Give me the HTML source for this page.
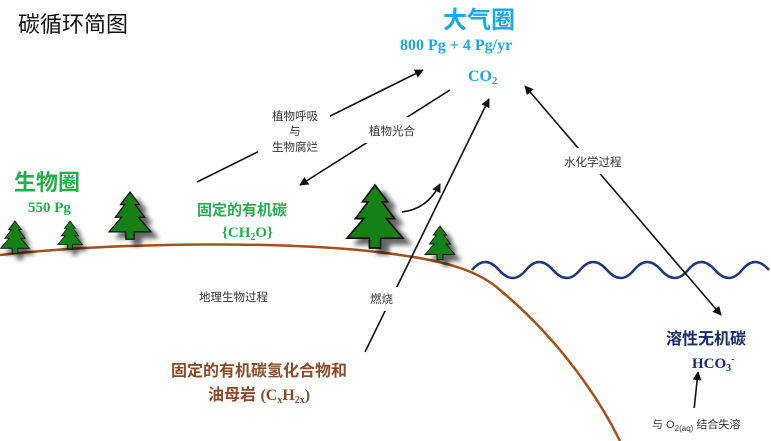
<!DOCTYPE html>
<html><head><meta charset="utf-8"><style>
html,body{margin:0;padding:0;background:#fff}
svg{display:block}
text{font-family:"Liberation Sans","Noto Sans CJK SC",sans-serif}
.serif{font-family:"Liberation Serif","Noto Serif CJK SC",serif;font-weight:bold}
</style></head><body>
<svg width="771" height="441" viewBox="0 0 771 441" xmlns="http://www.w3.org/2000/svg">
<defs>
<marker id="ah" viewBox="0 0 10 10" refX="9" refY="5" markerWidth="9" markerHeight="9" orient="auto-start-reverse" markerUnits="userSpaceOnUse"><path d="M0,0 L10,5 L0,10 z" fill="#111"/></marker>
<g id="tree"><polygon points="0,0 9,12 5,12 14,24 8,24 20,38 4,38 4,45 -4,45 -4,38 -20,38 -8,24 -14,24 -5,12 -9,12" fill="#158015" stroke="#111" stroke-width="1.2"/></g>
<filter id="sh" x="-50%" y="-50%" width="200%" height="200%">
<feFlood flood-color="#000" result="f"/>
<feComposite in="f" in2="SourceAlpha" operator="in" result="s"/>
<feGaussianBlur in="s" stdDeviation="2.5"/>
</filter>
</defs>
<rect width="771" height="441" fill="#fff"/>
<text x="18" y="32" font-size="22" fill="#111">碳循环简图</text>
<text x="443" y="28" font-size="24" font-weight="bold" fill="#1aa8e6">大气圈</text>
<text x="400" y="50" font-size="16" class="serif" fill="#1aa8e6">800 Pg + 4 Pg/yr</text>
<text x="468" y="81" font-size="16" class="serif" fill="#1aa8e6">CO<tspan font-size="11" dy="3">2</tspan></text>

<path d="M0,255 C120,242 300,240 400,255 C450,262 480,272 500,290 C560,340 600,400 620,441" fill="none" stroke="#a0521c" stroke-width="2.5"/>
<path d="M472,270 q13,-16 27,0 t27,0 t27,0 t27,0 t27,0 t27,0 t27,0 t27,0 t27,0 t27,0 t27,0" fill="none" stroke="#1f3778" stroke-width="2.5"/>

<g opacity="0.6" filter="url(#sh)">
<use href="#tree" transform="translate(20,227) scale(0.72)"/>
<use href="#tree" transform="translate(75,227) scale(0.62)"/>
<use href="#tree" transform="translate(137,198) scale(1.05)"/>
<use href="#tree" transform="translate(383,191) scale(1.4)"/>
<use href="#tree" transform="translate(446,232) scale(0.75)"/>
</g>
<use href="#tree" transform="translate(15,221) scale(0.72)"/>
<use href="#tree" transform="translate(70,221) scale(0.62)"/>
<use href="#tree" transform="translate(130,192) scale(1.05)"/>
<use href="#tree" transform="translate(375,185) scale(1.4)"/>
<use href="#tree" transform="translate(440,226) scale(0.75)"/>

<g stroke="#111" stroke-width="1.6" fill="none">
<line x1="197" y1="182" x2="423" y2="70" marker-end="url(#ah)"/>
<line x1="450" y1="90" x2="300" y2="185" marker-end="url(#ah)"/>
<line x1="365" y1="352" x2="489" y2="99" marker-end="url(#ah)"/>
<path d="M402,212 C420,210 432,200 440,184" marker-end="url(#ah)"/>
<line x1="525" y1="86" x2="721" y2="315" marker-start="url(#ah)" marker-end="url(#ah)"/>
<line x1="694" y1="410" x2="698" y2="372" marker-end="url(#ah)"/>
</g>

<g fill="#fff">
<rect x="258" y="104" width="72" height="52"/>
<rect x="358" y="117" width="64" height="26"/>
<rect x="548" y="148" width="80" height="26"/>
<rect x="188" y="285" width="100" height="30"/>
<rect x="363" y="287" width="40" height="24"/>
<rect x="640" y="408" width="115" height="33"/>
</g>
<g font-size="11.5" fill="#333">
<text x="295" y="120" text-anchor="middle">植物呼吸</text>
<text x="295" y="135" text-anchor="middle">与</text>
<text x="295" y="151" text-anchor="middle">生物腐烂</text>
<text x="369" y="135">植物光合</text>
<text x="564" y="166">水化学过程</text>
<text x="199" y="301">地理生物过程</text>
<text x="370" y="303">燃烧</text>
<text x="652" y="428" font-size="11">与 O<tspan font-size="8" dy="3">2(aq)</tspan><tspan dy="-3"> 结合失溶</tspan></text>
</g>

<text x="14" y="190" font-size="22" font-weight="bold" fill="#22b04a">生物圈</text>
<text x="28" y="212" font-size="15" class="serif" fill="#22b04a">550 Pg</text>
<text x="197" y="215" font-size="15" font-weight="bold" fill="#22b04a">固定的有机碳</text>
<text x="222" y="237" font-size="15" class="serif" fill="#22b04a">{CH<tspan font-size="10" dy="3">2</tspan><tspan dy="-3">O}</tspan></text>

<text x="171" y="376" font-size="16" font-weight="bold" fill="#8a4a2a">固定的有机碳氢化合物和</text>
<text x="208" y="400" font-size="16" font-weight="bold" fill="#8a4a2a">油母岩 <tspan class="serif">(C</tspan><tspan class="serif" font-size="10" dy="3">x</tspan><tspan class="serif" dy="-3">H</tspan><tspan class="serif" font-size="10" dy="3">2x</tspan><tspan class="serif" dy="-3">)</tspan></text>

<text x="666" y="344" font-size="16" font-weight="bold" fill="#1a2a70">溶性无机碳</text>
<text x="692" y="368" font-size="15" class="serif" fill="#1a2a70">HCO<tspan font-size="10" dy="3">3</tspan><tspan font-size="10" dy="-9">-</tspan></text>
</svg>
</body></html>
